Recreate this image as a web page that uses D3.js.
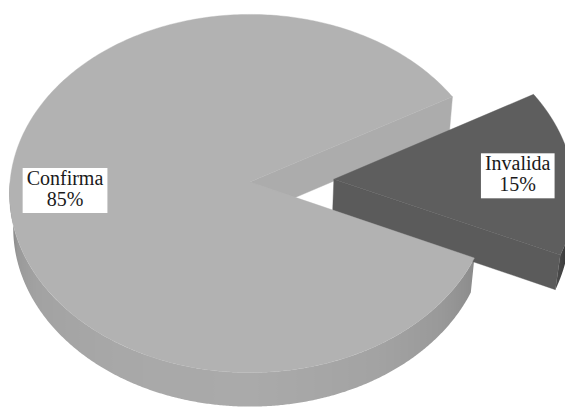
<!DOCTYPE html>
<html>
<head>
<meta charset="utf-8">
<script src="https://cdn.jsdelivr.net/npm/d3@7"></script>
<style>
  html, body { margin: 0; padding: 0; background: #ffffff; }
  svg { display: block; }
  .lbl { font-family: "Liberation Serif", "DejaVu Serif", "Noto Serif", serif; font-size: 20px; }
</style>
</head>
<body>
<svg id="chart" width="565" height="408"></svg>
<script>
// Data
const categories = ["Confirma", "Invalida"];
const values = [85, 15];
const explodedCategory = "Invalida";

// Appearance
const topColors = { "Confirma": "#b2b2b2", "Invalida": "#5e5e5e" };
const W = 565, H = 408;
const cx = 250, cy = 182;          // screen position of the pie centre (top face)
const F = 2496, DIST = 10.4;       // perspective: focal length (px per radius) and camera distance (radii)
const TILT = 48 * Math.PI / 180;   // camera elevation
const THICK = 0.22;                // pie thickness, in radii
const EXPLODE = 0.35;              // explosion distance, in radii
const LABEL_R = 0.77;              // label position along the mid angle, in radii
const START_DEG = 114.5;           // d3.pie start angle (clockwise from 12 o'clock)
const SAMPLES = 240;

const svg = d3.select("#chart");
svg.append("rect").attr("width", W).attr("height", H).attr("fill", "#ffffff");
const defs = svg.append("defs");

const cosT = Math.cos(TILT), sinT = Math.sin(TILT);
function project(X, Y, Z) {
  const up = Y * cosT - Z * sinT;
  const depth = Y * sinT + Z * cosT;
  const s = F / (DIST - depth);
  return [cx + s * X, cy - s * up];
}
// point at math angle phi (ccw from 3 o'clock), radius r, height Y, with slice offset
function pt(phi, r, Y, off) {
  return project(r * Math.cos(phi) + off[0], Y, -r * Math.sin(phi) + off[1]);
}

// brightness of the curved side by the direction it faces (degrees)
const sideShade = d3.scaleLinear()
  .domain([180, 182, 185, 190, 197, 210, 240, 270, 300, 320, 335, 345, 360])
  .range([0.2, 0.4, 0.6, 0.76, 0.86, 0.91, 0.945, 0.955, 0.915, 0.86, 0.79, 0.55, 0.3])
  .clamp(true);
const WALL_SHADE = 0.965;

function tint(base, k) {
  const c = d3.rgb(base);
  return d3.rgb(c.r * k, c.g * k, c.b * k).formatHex();
}

const line = d3.line();
const pie = d3.pie().sort(null)
  .startAngle(START_DEG * Math.PI / 180)
  .endAngle(START_DEG * Math.PI / 180 + 2 * Math.PI);

const data = categories.map((c, i) => ({ category: c, value: values[i] }));
const arcs = pie.value(d => d.value)(data);
const total = d3.sum(values);
const pct = d3.format(".0%");

// painting order: resting slices' sides, exploded slice, resting slices' tops, labels
const layerBack = svg.append("g");
const layerExploded = svg.append("g");
const layerTop = svg.append("g");
const layerLabels = svg.append("g");

const TWO_PI = 2 * Math.PI;

arcs.forEach((a, i) => {
  const cat = a.data.category;
  const base = topColors[cat];
  const phi0 = Math.PI / 2 - a.endAngle;   // smaller math angle
  const phi1 = Math.PI / 2 - a.startAngle; // larger math angle
  const mid = (phi0 + phi1) / 2;
  const exploded = cat === explodedCategory;
  const off = exploded ? [EXPLODE * Math.cos(mid), -EXPLODE * Math.sin(mid)] : [0, 0];
  const g = exploded ? layerExploded : layerBack;

  // curved outer side: only the part facing the viewer (math angles pi..2pi)
  const shift = Math.floor(phi0 / TWO_PI) * TWO_PI;
  const ranges = [[-Math.PI + shift, shift], [Math.PI + shift, TWO_PI + shift], [Math.PI + shift + TWO_PI, 2 * TWO_PI + shift]];
  ranges.forEach(([f0, f1]) => {
    const s0 = Math.max(phi0, f0), s1 = Math.min(phi1, f1);
    if (s1 <= s0) return;
    const n = Math.max(2, Math.ceil((s1 - s0) / (TWO_PI / SAMPLES) * 4));
    const topRim = [], botRim = [];
    for (let k = 0; k <= n; k++) {
      const p = s0 + (s1 - s0) * k / n;
      topRim.push(pt(p, 1, 0, off));
      botRim.push(pt(p, 1, -THICK, off));
    }
    const xs = topRim.map(d => d[0]).concat(botRim.map(d => d[0]));
    const x0 = d3.min(xs), x1 = d3.max(xs);
    const gid = "side-" + i + "-" + Math.round((s0 + 10) * 1000);
    const grad = defs.append("linearGradient")
      .attr("id", gid).attr("gradientUnits", "userSpaceOnUse")
      .attr("x1", x0).attr("y1", 0).attr("x2", x1).attr("y2", 0);
    const stops = [];
    for (let k = 0; k <= n; k++) {
      const p = s0 + (s1 - s0) * k / n;
      let deg = (p * 180 / Math.PI) % 360; if (deg < 0) deg += 360;
      if (deg < 1e-6 && k > 0) deg = 360;
      const x = (topRim[k][0] + botRim[k][0]) / 2;
      stops.push({ o: (x - x0) / (x1 - x0), c: tint(base, sideShade(deg)) });
    }
    stops.sort((u, v) => u.o - v.o);
    grad.selectAll("stop").data(stops).join("stop")
      .attr("offset", d => Math.max(0, Math.min(1, d.o)))
      .attr("stop-color", d => d.c);
    g.append("path")
      .attr("d", line(topRim.concat(botRim.reverse())) + "Z")
      .attr("fill", `url(#${gid})`);
  });

  // radial walls whose outward side faces the viewer
  const wallCol = tint(base, WALL_SHADE);
  [[phi0, Math.cos(phi0) > 0], [phi1, -Math.cos(phi1) > 0]].forEach(([p, visible]) => {
    if (!visible) return;
    g.append("path")
      .attr("d", line([pt(0, 0, 0, off), pt(p, 1, 0, off), pt(p, 1, -THICK, off), pt(0, 0, -THICK, off)]) + "Z")
      .attr("fill", wallCol).attr("stroke", wallCol).attr("stroke-width", 0.4);
  });

  // top face
  const nTop = 360;
  const topPts = [pt(0, 0, 0, off)];
  for (let k = 0; k <= nTop; k++) topPts.push(pt(phi0 + (phi1 - phi0) * k / nTop, 1, 0, off));
  (exploded ? layerExploded : layerTop).append("path")
    .attr("d", line(topPts) + "Z")
    .attr("fill", base).attr("stroke", base).attr("stroke-width", 0.4);

  // data label
  const [lx, ly] = pt(mid, LABEL_R, 0, off);
  const lg = layerLabels.append("g");
  const t = lg.append("text")
    .attr("class", "lbl")
    .attr("x", lx).attr("y", ly)
    .attr("text-anchor", "middle")
    .attr("fill", "#1a1a1a");
  t.append("tspan").attr("x", lx).attr("dy", -3).text(cat);
  t.append("tspan").attr("x", lx).attr("dy", 21).text(pct(a.data.value / total));
  const bb = t.node().getBBox();
  lg.insert("rect", "text")
    .attr("x", bb.x - 4).attr("y", bb.y + 1)
    .attr("width", bb.width + 8).attr("height", bb.height + 2)
    .attr("fill", "#ffffff");
});
</script>
</body>
</html>
